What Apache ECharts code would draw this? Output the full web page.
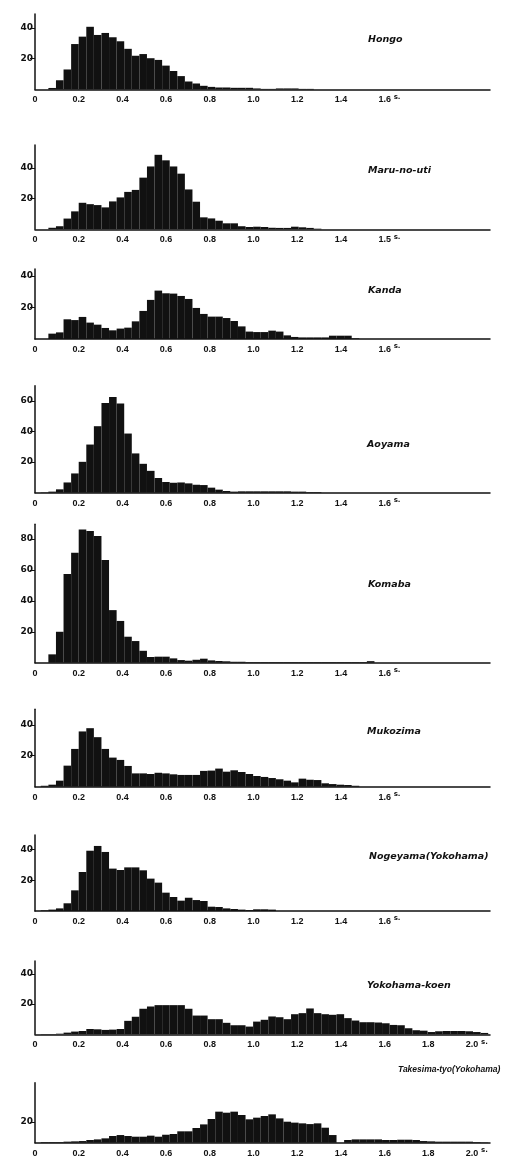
<!DOCTYPE html>
<html>
<head>
<meta charset="utf-8">
<script src="https://cdn.jsdelivr.net/npm/echarts@6/dist/echarts.min.js"></script>
<style>
  html, body { margin: 0; padding: 0; background: #fff; }
  #chart { width: 511px; height: 1161px; }
</style>
</head>
<body>
<div id="chart"></div>
<script>
// histogram bins (s.), same for every station
const binStart = 0.0265
const binWidth = 0.0347

// station names
const stations = ['Hongo', 'Maru-no-uti', 'Kanda', 'Aoyama', 'Komaba', 'Mukozima',
    'Nogeyama(Yokohama)', 'Yokohama-koen', 'Takesima-tyo(Yokohama)']

// counts per bin
const hongo = [0, 1, 6, 13, 29.5, 34.3, 40.7, 35.4, 36.7, 33.9, 31.3, 26.4, 21.9, 23, 20.3, 19.2, 15.5, 12,
    8.7, 5.2, 3.9, 2.4, 1.7, 1.3, 1.3, 1.1, 1.1, 1.1, 0.7, 0.4, 0.4, 0.7, 0.7, 0.7, 0.4, 0.4]
const maruNoUti = [0, 1, 2, 7, 11.7, 17.3, 16.4, 15.8, 14.3, 18.2, 20.8, 24.4, 25.7, 33.7, 41, 48.6, 45, 41,
    36.3, 26, 18, 7.8, 7.1, 5.6, 3.9, 3.9, 2, 1.5, 1.7, 1.5, 1, 0.9, 0.9, 1.7, 1.3, 0.9, 0.4]
const kanda = [0, 3.4, 4.2, 12.5, 12, 14, 10.4, 9.1, 7, 5.5, 6.6, 7.2, 11.2, 17.8, 24.8, 30.7, 29, 28.8, 27.3,
    25.4, 19.7, 15.9, 14.2, 14.2, 13.3, 11.4, 8, 4.7, 4.4, 4.4, 5.3, 4.7, 2.3, 1.3, 1, 1, 1, 1, 2.1, 2.1, 2.1, 0.4]
const aoyama = [0.2, 0.7, 2.2, 6.7, 12.6, 20.2, 31.5, 43.5, 58.7, 62.6, 58.3, 38.7, 25.7, 18.9, 14.3, 9.6, 7,
    6.5, 6.7, 6.1, 5.2, 5, 3.3, 2, 1.1, 0.7, 0.9, 0.9, 0.9, 0.9, 0.9, 0.9, 0.9, 0.7, 0.7, 0.4, 0.4]
const komaba = [0, 5.4, 20, 57.3, 71.1, 86.2, 85.1, 81.9, 66.4, 34, 27, 16.8, 14, 7.7, 3.7, 3.9, 3.9, 2.8, 1.7,
    1.3, 1.9, 2.6, 1.5, 1.1, 0.9, 0.6, 0.6, 0.4, 0.4, 0.4, 0.4, 0.4, 0.4, 0.4, 0.4, 0.4, 0.4, 0.4, 0.4, 0.4,
    0.4, 0.4, 0.4, 1]
const mukozima = [0.6, 1.3, 3.9, 13.6, 24.4, 35.7, 37.8, 32, 24.4, 18.8, 17.3, 13.4, 8.6, 8.6, 8.2, 9, 8.6, 8,
    7.6, 7.6, 7.6, 10.2, 10.4, 11.7, 9.7, 10.6, 9.5, 8.2, 6.9, 6.3, 5.6, 4.8, 3.9, 2.8, 5.2, 4.5, 4.3, 2.2, 1.7,
    1.3, 1.1, 0.6]
const nogeyama = [0.4, 0.9, 1.7, 5, 13.4, 25.3, 39.1, 42.2, 38.3, 27.5, 26.6, 28.3, 28.3, 26.4, 21, 18.4, 11.9,
    9.1, 6.7, 8.6, 7.1, 6.5, 2.8, 2.6, 1.7, 1.3, 0.9, 0.6, 1.1, 1.1, 0.9]
const yokohamaKoen = [0.2, 0.2, 0.4, 1.1, 1.8, 2.2, 3.5, 3.3, 2.9, 3.1, 3.5, 8.9, 11.6, 16.9, 18.4, 19.3, 19.3,
    19.3, 19.3, 16.9, 12.4, 12.4, 10, 10, 7.6, 6, 6, 5.1, 8.4, 9.6, 11.8, 11.3, 10, 13.3, 14, 17.1, 14, 13.3,
    12.9, 13.3, 10.7, 9.1, 8, 8, 7.8, 7.3, 6.2, 6, 4, 2.7, 2.4, 1.5, 2, 2.2, 2.2, 2.2, 2, 1.5, 0.9]
const takesima = [0.6, 0.6, 0.6, 1, 1.3, 1.6, 2.6, 3.2, 4.2, 6.5, 7.4, 6.5, 5.8, 5.8, 6.8, 5.8, 7.7, 8.4, 11,
    11, 14.2, 17.7, 22.9, 30, 29, 30, 26.8, 22.6, 24.2, 25.8, 27.4, 23.5, 20.3, 19.4, 18.7, 18, 18.7, 14.5, 7.4,
    0, 2.6, 3.2, 3.2, 3.2, 3.2, 2.6, 2.6, 2.9, 2.9, 2.6, 1.6, 1.3, 1, 1, 1, 1, 1, 0.6, 0.3]

// tick values and labels
const xTicksShort = [0, 0.2, 0.4, 0.6, 0.8, 1.0, 1.2, 1.4, 1.6]
const xLabelsShort = ['0', '0.2', '0.4', '0.6', '0.8', '1.0', '1.2', '1.4', '1.6']
const xLabelsMaru = ['0', '0.2', '0.4', '0.6', '0.8', '1.0', '1.2', '1.4', '1.5']
const xTicksLong = [0, 0.2, 0.4, 0.6, 0.8, 1.0, 1.2, 1.4, 1.6, 1.8, 2.0]
const xLabelsLong = ['0', '0.2', '0.4', '0.6', '0.8', '1.0', '1.2', '1.4', '1.6', '1.8', '2.0']
const yTicks2 = [20, 40]
const yTicks3 = [20, 40, 60]
const yTicks4 = [20, 40, 60, 80]
const yTicks1 = [20]

const counts = [hongo, maruNoUti, kanda, aoyama, komaba, mukozima, nogeyama, yokohamaKoen, takesima]
const yTicks = [yTicks2, yTicks2, yTicks2, yTicks3, yTicks4, yTicks2, yTicks2, yTicks2, yTicks1]
const xTicks = [xTicksShort, xTicksShort, xTicksShort, xTicksShort, xTicksShort, xTicksShort, xTicksShort, xTicksLong, xTicksLong]
const xLabels = [xLabelsShort, xLabelsMaru, xLabelsShort, xLabelsShort, xLabelsShort, xLabelsShort, xLabelsShort, xLabelsLong, xLabelsLong]

// layout: axis top (px), axis height (px), y max, title left / centre y
const layout = [
    {top: 14, height: 75.5, ymax: 49, titleX: 368, titleY: 42},
    {top: 145, height: 84.3, ymax: 55, titleX: 368, titleY: 173},
    {top: 269, height: 70, ymax: 44.4, titleX: 368, titleY: 293},
    {top: 385.7, height: 107, ymax: 70, titleX: 367, titleY: 447},
    {top: 524.3, height: 138.4, ymax: 89.5, titleX: 368, titleY: 587},
    {top: 709.3, height: 77.4, ymax: 50, titleX: 367, titleY: 734},
    {top: 835, height: 76, ymax: 49.3, titleX: 369, titleY: 859},
    {top: 961, height: 73.3, ymax: 48.5, titleX: 367, titleY: 988},
    {top: 1082.7, height: 60, ymax: 58, titleX: 398, titleY: 1072}
]

const ink = '#111'
const font = 'DejaVu Sans'

const chart = echarts.init(document.getElementById('chart'), null, {renderer: 'canvas'})

function renderBin(params, api) {
    const x0 = api.value(0)
    const c = api.value(1)
    const p0 = api.coord([x0, c])
    const p1 = api.coord([x0 + binWidth, 0])
    return {
        type: 'rect',
        shape: {x: p0[0], y: p0[1], width: p1[0] - p0[0], height: p1[1] - p0[1]},
        style: {fill: ink}
    }
}

const grids = [], xAxes = [], yAxes = [], series = [], titles = []
layout.forEach((l, i) => {
    grids.push({left: 35, right: 21, top: l.top, height: l.height})
    const ticks = xTicks[i], labels = xLabels[i]
    xAxes.push({
        type: 'value', gridIndex: i, min: 0, max: 2.082,
        axisLine: {show: true, onZero: false, lineStyle: {color: ink, width: 1.5}},
        axisTick: {show: false},
        splitLine: {show: false},
        axisLabel: {
            customValues: ticks, margin: 6, color: ink, fontFamily: 'Liberation Sans',
            fontWeight: 'bold', fontSize: 9,
            formatter: v => {
                const k = ticks.findIndex(t => Math.abs(t - v) < 1e-6)
                return k >= 0 ? labels[k] : ''
            }
        }
    })
    yAxes.push({
        type: 'value', gridIndex: i, min: 0, max: l.ymax,
        axisLine: {show: true, lineStyle: {color: ink, width: 1.5}},
        axisTick: {show: true, customValues: yTicks[i], length: 5, lineStyle: {color: ink, width: 1}},
        splitLine: {show: false},
        axisLabel: {customValues: yTicks[i], margin: 2, color: ink, fontFamily: font, fontWeight: 'bold', fontSize: 9}
    })
    series.push({
        type: 'custom', xAxisIndex: i, yAxisIndex: i,
        renderItem: renderBin,
        encode: {x: 0, y: 1},
        data: counts[i].map((c, k) => [binStart + k * binWidth, c])
    })
    const narrow = i === 8
    titles.push({
        text: stations[i], left: l.titleX, top: l.titleY - 7,
        padding: 0,
        textStyle: {
            fontFamily: narrow ? 'Liberation Sans' : font, fontStyle: 'italic', fontWeight: 'bold',
            fontSize: narrow ? 8.5 : 9.5, color: ink
        }
    })
})

chart.setOption({
    animation: false,
    backgroundColor: '#fff',
    title: titles,
    grid: grids,
    xAxis: xAxes,
    yAxis: yAxes,
    series: series
})

// small "s." unit after the last x label of each panel
const units = layout.map((l, i) => {
    const last = xTicks[i][xTicks[i].length - 1]
    const p = chart.convertToPixel({gridIndex: i}, [last, 0])
    return {
        type: 'text', x: p[0] + 9, y: p[1] + 4,
        style: {text: 's.', fill: ink, font: 'bold 7px "DejaVu Sans"'}
    }
})
chart.setOption({graphic: units})
</script>
</body>
</html>
